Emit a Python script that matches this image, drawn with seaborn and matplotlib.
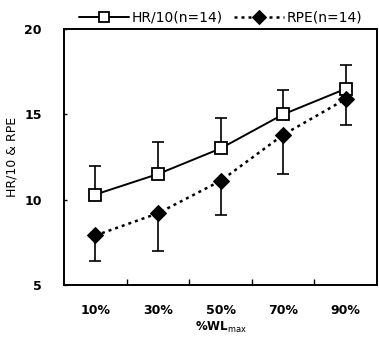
import matplotlib
matplotlib.use("Agg")
import matplotlib.pyplot as plt
import seaborn as sns
import pandas as pd
import numpy as np

categories = ["10%", "30%", "50%", "70%", "90%"]
hr_mean = [10.3, 11.5, 13.0, 15.0, 16.5]
hr_sd = [1.7, 1.9, 1.8, 1.4, 1.4]
rpe_mean = [7.9, 9.2, 11.1, 13.8, 15.9]
rpe_sd = [1.5, 2.2, 2.0, 2.3, 1.5]

sns.set_theme(style="white")
plt.rcParams['font.family'] = ['DejaVu Sans']
plt.rcParams['text.color'] = 'black'
plt.rcParams['axes.labelcolor'] = 'black'
plt.rcParams['xtick.color'] = 'black'
plt.rcParams['ytick.color'] = 'black'

fig = plt.figure(figsize=(3.79, 3.38), dpi=100)
ax = fig.add_axes([0.169, 0.157, 0.826, 0.757])

x = np.arange(len(categories))
df = pd.DataFrame({"x": np.concatenate([x, x]),
                   "y": hr_mean + rpe_mean,
                   "series": ["HR/10(n=14)"] * 5 + ["RPE(n=14)"] * 5})

# error bars (one-sided)
ax.errorbar(x, hr_mean, yerr=[np.zeros(5), hr_sd], fmt="none", ecolor="black",
            elinewidth=1.2, capsize=4, capthick=1.2, zorder=1)
ax.errorbar(x, rpe_mean, yerr=[rpe_sd, np.zeros(5)], fmt="none", ecolor="black",
            elinewidth=1.2, capsize=4, capthick=1.2, zorder=1)

sns.lineplot(data=df[df.series == "HR/10(n=14)"], x="x", y="y", ax=ax, color="black",
             lw=1.4, marker="s", markersize=9, markerfacecolor="white",
             markeredgecolor="black", markeredgewidth=1.3, label="HR/10(n=14)", zorder=3)
sns.lineplot(data=df[df.series == "RPE(n=14)"], x="x", y="y", ax=ax, color="black",
             lw=1.8, linestyle=(0, (1.2, 1.6)), marker="D", markersize=8,
             markerfacecolor="black", markeredgecolor="black", label="RPE(n=14)", zorder=3)

ax.set_xlim(-0.5, 4.5)
ax.set_ylim(5, 20)
ax.set_xticks(x)
ax.set_xticklabels(categories, fontsize=9, fontweight="bold")
ax.set_xticks(np.arange(0.5, 4.5, 1.0), minor=True)
ax.tick_params(axis="x", which="major", length=0, pad=14)
ax.tick_params(axis="x", which="minor", direction="in", length=4, width=1, bottom=True)
ax.set_yticks([5, 10, 15, 20])
ax.set_yticklabels(["5", "10", "15", "20"], fontsize=9, fontweight="bold")
ax.tick_params(axis="y", which="major", direction="in", length=2, width=1, left=True, pad=16)
for s in ax.spines.values():
    s.set_color("black")
    s.set_linewidth(1.4)

ax.set_xlabel("%WL$_{\\mathrm{max}}$", fontsize=8.5, labelpad=2, fontweight="bold")
ax.set_ylabel("HR/10 & RPE", fontsize=9, labelpad=4)

leg = ax.legend(loc="lower center", bbox_to_anchor=(0.5, 0.995), ncol=2, frameon=False,
                fontsize=10, handlelength=3.6, columnspacing=0.8, handletextpad=0.2,
                borderaxespad=0.0, markerscale=0.85)

fig.savefig("out.png", dpi=100)
